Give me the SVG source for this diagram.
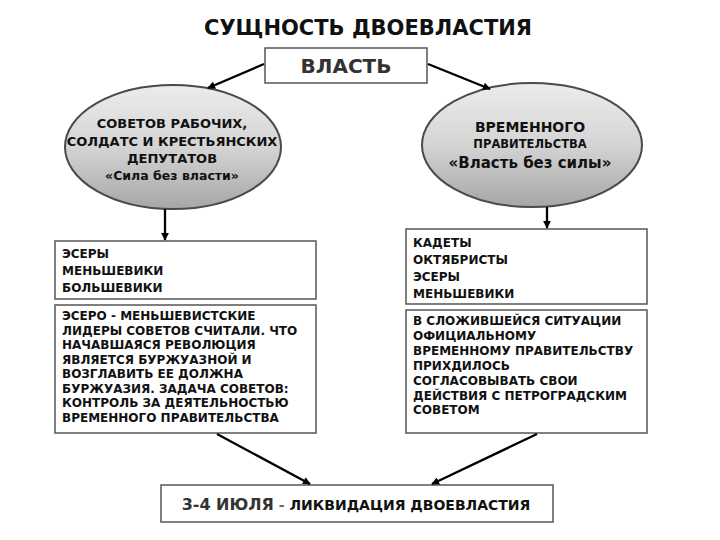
<svg xmlns="http://www.w3.org/2000/svg" width="720" height="540" viewBox="0 0 720 540">
<defs>
<linearGradient id="g" x1="0" y1="0" x2="0" y2="1">
<stop offset="0" stop-color="#ececec"/>
<stop offset="0.5" stop-color="#d4d4d4"/>
<stop offset="1" stop-color="#a6a6a6"/>
</linearGradient>
<marker id="ah" viewBox="0 0 10 10" refX="9" refY="5" markerWidth="3.6" markerHeight="3.4" orient="auto" markerUnits="strokeWidth">
<path d="M0,0 L10,5 L0,10 z" fill="#000"/>
</marker>
<style>
text{font-family:"DejaVu Sans","Liberation Sans",sans-serif;font-weight:bold;fill:#111}
.box{fill:#fff;stroke:#555;stroke-width:1.5}
.ell{fill:url(#g);stroke:#4a4a4a;stroke-width:2}
.arr{stroke:#000;stroke-width:2.3;fill:none;marker-end:url(#ah)}
.t{font-size:12px}
</style>
</defs>
<rect width="720" height="540" fill="#fff"/>
<text x="368" y="35" font-size="21" text-anchor="middle">СУЩНОСТЬ ДВОЕВЛАСТИЯ</text>
<g id="vlast">
<rect class="box" x="265" y="48" width="162" height="35"/>
<text x="346" y="73" font-size="20" text-anchor="middle" style="fill:#333">ВЛАСТЬ</text>
</g>
<g id="sovety">
<ellipse class="ell" cx="173" cy="147" rx="108" ry="62"/>
<text x="172" y="128" font-size="13" text-anchor="middle">СОВЕТОВ РАБОЧИХ,</text>
<text x="172" y="146" font-size="13" text-anchor="middle">СОЛДАТС И КРЕСТЬЯНСКИХ</text>
<text x="172" y="163" font-size="13" text-anchor="middle">ДЕПУТАТОВ</text>
<text x="172" y="180" font-size="12.5" text-anchor="middle">«Сила без власти»</text>
</g>
<g id="vremennoe">
<ellipse class="ell" cx="532" cy="145" rx="110" ry="62"/>
<text x="530" y="132" font-size="14" text-anchor="middle">ВРЕМЕННОГО</text>
<text x="530" y="148" font-size="11.5" text-anchor="middle">ПРАВИТЕЛЬСТВА</text>
<text x="530" y="168" font-size="15" text-anchor="middle">«Власть без силы»</text>
</g>
<g id="left-parties">
<rect class="box" x="55" y="241" width="261" height="58"/>
<text class="t" x="62" y="258">ЭСЕРЫ</text>
<text class="t" x="62" y="275">МЕНЬШЕВИКИ</text>
<text class="t" x="62" y="292">БОЛЬШЕВИКИ</text>
</g>
<g id="left-desc">
<rect class="box" x="55" y="305" width="261" height="128"/>
<text class="t" x="62" y="320">ЭСЕРО - МЕНЬШЕВИСТСКИЕ</text>
<text class="t" x="62" y="334.5">ЛИДЕРЫ СОВЕТОВ СЧИТАЛИ. ЧТО</text>
<text class="t" x="62" y="349">НАЧАВШАЯСЯ РЕВОЛЮЦИЯ</text>
<text class="t" x="62" y="363.5">ЯВЛЯЕТСЯ БУРЖУАЗНОЙ И</text>
<text class="t" x="62" y="378">ВОЗГЛАВИТЬ ЕЕ ДОЛЖНА</text>
<text class="t" x="62" y="392.5">БУРЖУАЗИЯ. ЗАДАЧА СОВЕТОВ:</text>
<text class="t" x="62" y="407">КОНТРОЛЬ ЗА ДЕЯТЕЛЬНОСТЬЮ</text>
<text class="t" x="62" y="421.5">ВРЕМЕННОГО ПРАВИТЕЛЬСТВА</text>
</g>
<g id="right-parties">
<rect class="box" x="406" y="229" width="241" height="75"/>
<text class="t" x="413" y="247">КАДЕТЫ</text>
<text class="t" x="413" y="264">ОКТЯБРИСТЫ</text>
<text class="t" x="413" y="281">ЭСЕРЫ</text>
<text class="t" x="413" y="298">МЕНЬШЕВИКИ</text>
</g>
<g id="right-desc">
<rect class="box" x="406" y="310" width="241" height="123"/>
<text class="t" x="413" y="325">В СЛОЖИВШЕЙСЯ СИТУАЦИИ</text>
<text class="t" x="413" y="340">ОФИЦИАЛЬНОМУ</text>
<text class="t" x="413" y="355">ВРЕМЕННОМУ ПРАВИТЕЛЬСТВУ</text>
<text class="t" x="413" y="370">ПРИХДИЛОСЬ</text>
<text class="t" x="413" y="385">СОГЛАСОВЫВАТЬ СВОИ</text>
<text class="t" x="413" y="400">ДЕЙСТВИЯ С ПЕТРОГРАДСКИМ</text>
<text class="t" x="413" y="414">СОВЕТОМ</text>
</g>
<g id="final">
<rect class="box" x="161" y="485" width="392" height="37"/>
<text x="356" y="510" text-anchor="middle"><tspan font-size="16" style="fill:#333">3-4 ИЮЛЯ</tspan><tspan font-size="14" style="fill:#666"> - </tspan><tspan font-size="14">ЛИКВИДАЦИЯ ДВОЕВЛАСТИЯ</tspan></text>
</g>
<g id="connectors">
<line class="arr" x1="264" y1="64" x2="208" y2="88"/>
<line class="arr" x1="428" y1="64" x2="490" y2="89"/>
<line class="arr" x1="165" y1="209" x2="165" y2="240"/>
<line class="arr" x1="547" y1="207" x2="547" y2="228"/>
<line class="arr" x1="217" y1="434" x2="310" y2="484"/>
<line class="arr" x1="537" y1="434" x2="432" y2="484"/>
</g>
</svg>
